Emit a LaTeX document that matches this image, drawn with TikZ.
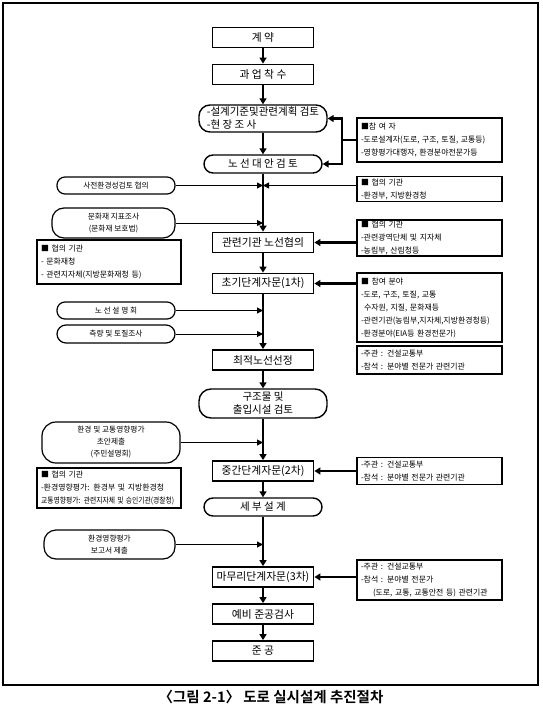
\documentclass[tikz,border=0pt]{standalone}
\usepackage{graphicx}
\usepackage{fontspec}
\setmainfont{Noto Sans CJK KR}[BoldFont={Noto Sans CJK KR Bold}]
\usetikzlibrary{arrows.meta}
\tikzset{
  mainbox/.style={draw, line width=1.8pt, minimum width=101pt, minimum height=20pt, inner sep=0pt, font=\fontsize{10.8}{13}\selectfont},
  stad/.style={draw, line width=1.4pt, inner sep=0pt, align=center},
  mstad/.style={stad, font=\fontsize{10.5}{13}\selectfont},
  sstad/.style={stad, line width=1.2pt, font=\fontsize{7.7}{12}\selectfont},
  sidebox/.style={draw, line width=1.8pt, inner xsep=4pt, inner ysep=0pt, align=left, text width=137pt, font=\fontsize{7.9}{13}\selectfont},
  flow/.style={line width=2.4pt, -{Triangle[length=6pt,width=7pt]}},
  feed/.style={line width=1pt, -{Triangle[length=6pt,width=6pt]}},
  feedthick/.style={line width=2.2pt, -{Triangle[length=6pt,width=7pt]}},
  plainthick/.style={line width=2.2pt}
}
\begin{document}
\begin{tikzpicture}[x=1pt,y=-1pt]
\useasboundingbox (0,0) rectangle (542,709);
\draw[line width=2.5pt] (3,3) rectangle (538,685);

% main column
\node[mainbox] (kyeyak) at (263,37.5) {계 약};
\node[mainbox] (gwaeop) at (263,74.5) {과 업 착 수};
\node[mstad, minimum width=128pt, minimum height=27pt, rounded corners=11pt, align=left] (review) at (263,118.5) {-설계기준및관련계획 검토\\-현 장 조 사};
\node[mstad, minimum width=118pt, minimum height=18pt, rounded corners=9pt] (alt) at (263,164) {노 선 대 안 검 토};
\node[mainbox] (hyeopui) at (263,242.5) {관련기관 노선협의};
\node[mainbox] (cho) at (263,283.5) {초기단계자문(1차)};
\node[mainbox] (choijeok) at (263,360) {최적노선선정};
\node[mstad, minimum width=128pt, minimum height=29pt, rounded corners=12pt] (gujo) at (263,403.5) {구조물 및\\출입시설 검토};
\node[mainbox] (jung) at (263,471) {중간단계자문(2차)};
\node[mstad, minimum width=118pt, minimum height=18pt, rounded corners=9pt] (sebu) at (263,507) {세 부 설 계};
\node[mainbox] (mamuri) at (263,577) {마무리단계자문(3차)};
\node[mainbox] (yebi) at (263,614) {예비 준공검사};
\node[mainbox] (jungong) at (263,651) {준 공};

\draw[flow] (kyeyak) -- (gwaeop);
\draw[flow] (gwaeop) -- (review);
\draw[flow] (review) -- (alt);
\draw[flow] (alt) -- (hyeopui);
\draw[flow] (hyeopui) -- (cho);
\draw[flow] (cho) -- (choijeok);
\draw[flow] (choijeok) -- (gujo);
\draw[flow] (gujo) -- (jung);
\draw[flow] (jung) -- (sebu);
\draw[flow] (sebu) -- (mamuri);
\draw[flow] (mamuri) -- (yebi);
\draw[flow] (yebi) -- (jungong);

% right boxes
\node[sidebox, minimum height=44pt] (r1) at (429.5,140) {■참 여 자\\-도로설계자(도로, 구조, 토질, 교통등)\\-영향평가대행자, 환경분야전문가등};
\node[sidebox, minimum height=25pt] (r2) at (429.5,189) {■ 협의 기관\\-환경부, 지방환경청};
\node[sidebox, minimum height=36pt] (r3) at (429.5,238) {■ 협의 기관\\-관련광역단체 및 지자체\\-농림부, 산림청등};
\node[sidebox, minimum height=69pt] (r4) at (429.5,307.5) {■ 참여 분야\\-도로, 구조, 토질, 교통\\\hspace*{3pt}수자원, 지질, 문화재등\\-관련기관(농림부,지자체,지방환경청등)\\-환경분야(EIA등 환경전문가)};
\node[sidebox, minimum height=28pt] (r5) at (429.5,360) {-주관 : 건설교통부\\-참석 : 분야별 전문가 관련기관};
\node[sidebox, minimum height=27pt] (r6) at (429.5,471) {-주관 : 건설교통부\\-참석 : 분야별 전문가 관련기관};
\node[sidebox, minimum height=40pt] (r7) at (429.5,580) {-주관 : 건설교통부\\-참석 : 분야별 전문가\\\hspace*{12pt}(도로, 교통, 교통안전 등) 관련기관};

\coordinate (r1j) at (342,140);
\draw[plainthick] (r1.west) -- (r1j);
\draw[feedthick] (r1j) -- (r1j |- review.east) -- (review.east);
\draw[feedthick] (r1j) -- (r1j |- alt.east) -- (alt.east);
\draw[feedthick] (r3.west |- hyeopui.east) -- (hyeopui.east);
\draw[feedthick] (r4.west |- cho.east) -- (cho.east);
\draw[feedthick] (r6.west |- jung.east) -- (jung.east);
\draw[feedthick] (r7.west |- mamuri.east) -- (mamuri.east);

% left items
\node[sstad, minimum width=118pt, minimum height=17pt, rounded corners=8pt] (l1) at (116,185.5) {사전환경성검토 협의};
\node[sstad, minimum width=123pt, minimum height=30pt, rounded corners=12pt] (l2) at (113.5,223) {문화재 지표조사\\(문화재 보호법)};
\node[sidebox, text width=136pt, minimum height=44pt] (lb1) at (109,262) {■ 협의 기관\\- 문화재청\\- 관련지자체(지방문화재청 등)};
\node[sstad, minimum width=118pt, minimum height=17pt, rounded corners=8pt] (l4) at (116,310.5) {노 선 설 명 회};
\node[sstad, minimum width=118pt, minimum height=18pt, rounded corners=9pt] (l5) at (116,334) {측량 및 토질조사};
\node[sstad, minimum width=138pt, minimum height=41pt, rounded corners=14pt] (l6) at (111,442.5) {환경 및 교통영향평가\\초안제출\\(주민설명회)};
\node[sidebox, text width=136pt, minimum height=40pt] (lb2) at (109,488) {■ 협의 기관\\-환경영향평가: 환경부 및 지방환경청\\\scalebox{0.86}[1]{교통영향평가: 관련지자체 및 승인기관(경찰청)}};
\node[sstad, minimum width=131pt, minimum height=29pt, rounded corners=12pt] (l8) at (109.5,544.5) {환경영향평가\\보고서 제출};

\draw[feed] (l1.east) -- (l1.east -| alt.south);
\draw[feed] (r2.west |- l1.east) -- (l1.east -| alt.south);
\draw[feed] (l2.east) -- (l2.east -| alt.south);
\draw[feed] (l4.east) -- (l4.east -| cho.south);
\draw[feed] (l5.east) -- (l5.east -| cho.south);
\draw[feed] (l6.east) -- (l6.east -| gujo.south);
\draw[feed] (l8.east) -- (l8.east -| sebu.south);

% caption
\node[font=\bfseries\fontsize{14.5}{16}\selectfont] (cap) at (271,697) {〈그림 2-1〉 도로 실시설계 추진절차};
\end{tikzpicture}
\end{document}
